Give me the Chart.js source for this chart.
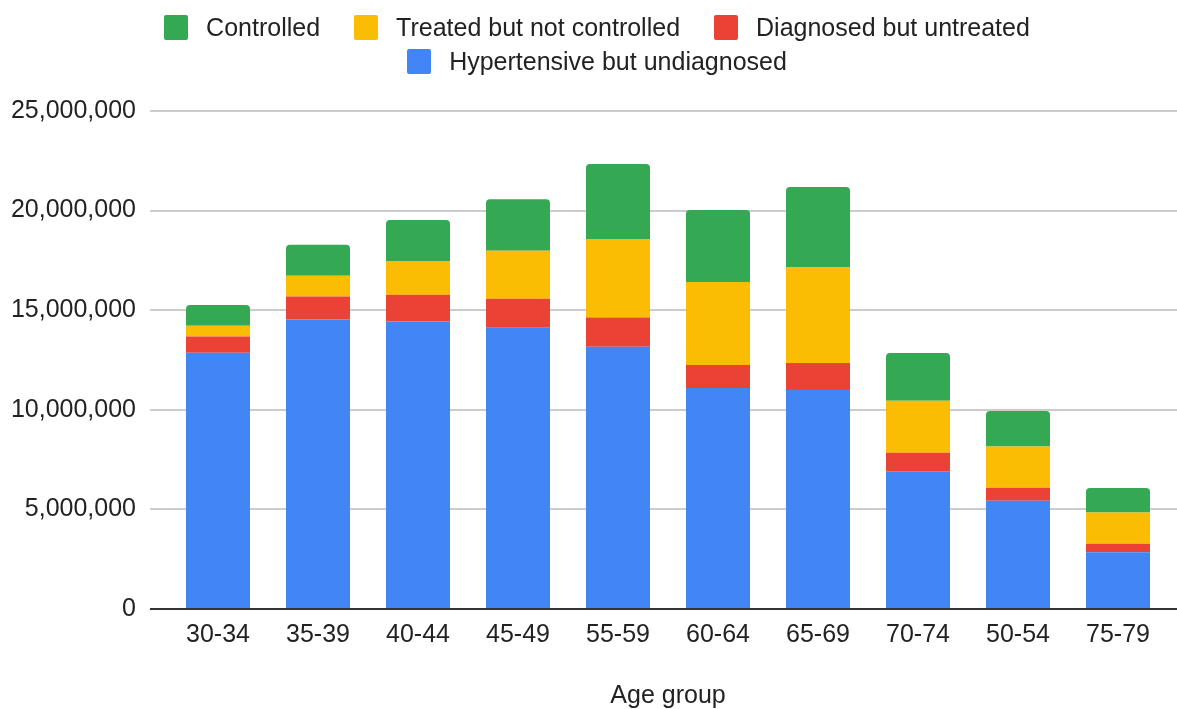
<!DOCTYPE html>
<html>
<head>
<meta charset="utf-8">
<script src="https://cdn.jsdelivr.net/npm/chart.js@4.4.1/dist/chart.umd.min.js"></script>
<style>
  body { margin: 0; background: #fff; font-family: "Liberation Sans", Arial, sans-serif; }
  #wrap { position: relative; width: 1177px; height: 709px; }
  #legend {
    position: absolute; top: 10px; left: 117px; width: 960px;
    display: flex; flex-wrap: wrap; justify-content: center;
    column-gap: 34px; line-height: 34px; font-size: 25px; color: #222;
  }
  .item { display: flex; align-items: center; }
  .box { width: 24px; height: 25px; border-radius: 2px; margin-right: 18px; }
</style>
</head>
<body>
<div id="wrap">
  <div id="legend"></div>
  <canvas id="chart"></canvas>
</div>
<script>
// age groups in the order the sheet had them
var ageGroups = ['30-34', '35-39', '40-44', '45-49', '55-59', '60-64', '65-69', '70-74', '50-54', '75-79'];

var undiagnosed   = [12860000, 14530000, 14430000, 14120000, 13160000, 11090000, 10990000, 6910000, 5440000, 2850000];
var untreated     = [820000, 1160000, 1340000, 1450000, 1470000, 1160000, 1360000, 940000, 650000, 430000];
var notControlled = [540000, 1040000, 1670000, 2410000, 3950000, 4160000, 4790000, 2610000, 2070000, 1560000];
var controlled    = [1040000, 1550000, 2090000, 2590000, 3760000, 3620000, 4050000, 2390000, 1780000, 1240000];

var yTicks = [0, 5000000, 10000000, 15000000, 20000000, 25000000];

var seriesNames = ['Hypertensive but undiagnosed', 'Diagnosed but untreated', 'Treated but not controlled', 'Controlled'];
var seriesColors = ['#4285F4', '#EA4335', '#FBBC04', '#34A853'];
var seriesData = [undiagnosed, untreated, notControlled, controlled];

var fontFam = '"Liberation Sans", Arial, sans-serif';

var datasets = seriesData.map(function (d, i) {
  var ds = {
    label: seriesNames[i],
    data: d,
    backgroundColor: seriesColors[i],
    categoryPercentage: 0.8,
    barPercentage: 0.8
  };
  if (i === 3) {
    ds.borderRadius = { topLeft: 4, topRight: 4, bottomLeft: 0, bottomRight: 0 };
    ds.borderSkipped = false;
  }
  return ds;
});

// html legend, top series first like the original
var legend = document.getElementById('legend');
for (var i = seriesNames.length - 1; i >= 0; i--) {
  var it = document.createElement('div');
  it.className = 'item';
  it.innerHTML = '<span class="box" style="background:' + seriesColors[i] + '"></span><span>' + seriesNames[i] + '</span>';
  legend.appendChild(it);
}

function fmt(v) {
  return String(v).replace(/\B(?=(\d{3})+(?!\d))/g, ',');
}

// gridlines run on to the right edge of the canvas in the original
var gridToEdge = {
  id: 'gridToEdge',
  beforeDatasetsDraw: function (chart) {
    var y = chart.scales.y, c = chart.ctx, a = chart.chartArea;
    c.save();
    c.lineWidth = 2;
    yTicks.forEach(function (v) {
      var py = Math.round(y.getPixelForValue(v));
      c.strokeStyle = v === 0 ? '#333' : '#cccccc';
      c.beginPath();
      c.moveTo(a.right, py);
      c.lineTo(chart.width, py);
      c.stroke();
    });
    c.restore();
  }
};

var ctx = document.getElementById('chart');
new Chart(ctx, {
  type: 'bar',
  data: { labels: ageGroups, datasets: datasets },
  plugins: [gridToEdge],
  options: {
    responsive: true,
    maintainAspectRatio: false,
    animation: false,
    layout: { padding: { top: 111, right: 9, left: 0, bottom: 0 } },
    plugins: {
      legend: { display: false },
      tooltip: { enabled: false }
    },
    scales: {
      x: {
        stacked: true,
        grid: { display: false, drawTicks: false },
        border: { display: false },
        ticks: { color: '#222', padding: 11, font: { family: fontFam, size: 25 } },
        title: {
          display: true, text: 'Age group', color: '#222',
          font: { family: fontFam, size: 25 }, padding: { top: 0, bottom: -2 }
        },
        afterFit: function (scale) { scale.height = 100; }
      },
      y: {
        stacked: true,
        min: 0,
        max: 25000000,
        afterBuildTicks: function (scale) {
          scale.ticks = yTicks.map(function (v) { return { value: v }; });
        },
        grid: {
          color: function (c) { return c.tick && c.tick.value === 0 ? '#333' : '#cccccc'; },
          lineWidth: 2,
          tickLength: 18
        },
        border: { display: false },
        ticks: {
          color: '#222', padding: 14,
          font: { family: fontFam, size: 25 },
          callback: function (v) { return fmt(v); }
        },
        afterFit: function (scale) { scale.width = 168; }
      }
    }
  }
});
</script>
</body>
</html>
